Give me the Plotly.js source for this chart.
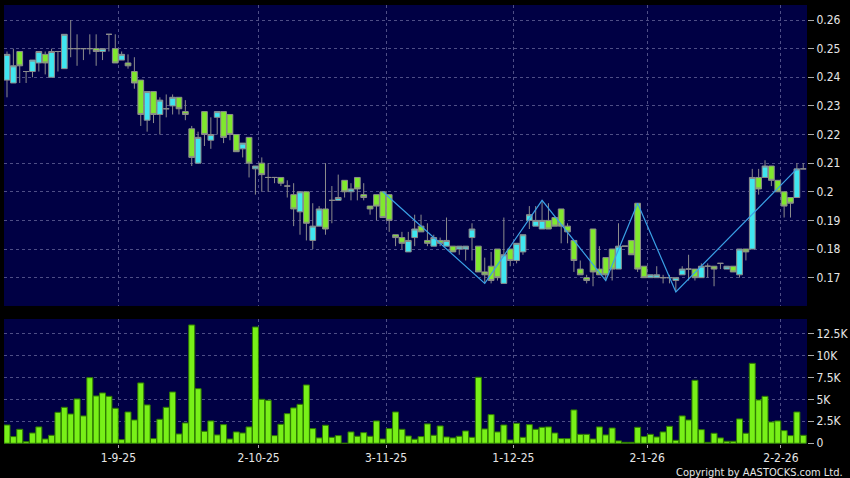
<!DOCTYPE html>
<html><head><meta charset="utf-8">
<script src="https://cdn.plot.ly/plotly-3.0.1.min.js"></script>
<style>html,body{margin:0;padding:0;background:#000;}#chart{width:850px;height:478px;}</style>
</head><body><div id="chart"></div>
<script>
const openP = [0.239,0.238,0.249,0.242,0.242,0.245,0.248,0.240,0.249,0.243,
0.250,0.250,0.250,0.250,0.250,0.249,0.255,0.250,0.246,0.245,
0.242,0.239,0.225,0.235,0.227,0.229,0.230,0.233,0.228,0.222,
0.210,0.228,0.218,0.226,0.228,0.227,0.220,0.215,0.219,0.208,
0.210,0.205,0.205,0.205,0.202,0.199,0.193,0.200,0.183,0.188,
0.194,0.197,0.197,0.204,0.200,0.205,0.199,0.195,0.199,0.200,
0.199,0.185,0.184,0.179,0.184,0.188,0.183,0.181,0.183,0.181,
0.181,0.180,0.180,0.184,0.181,0.172,0.174,0.180,0.168,0.180,
0.176,0.179,0.190,0.188,0.187,0.190,0.191,0.194,0.188,0.183,
0.173,0.170,0.187,0.173,0.177,0.180,0.173,0.181,0.183,0.196,
0.174,0.170,0.170,0.170,0.170,0.169,0.171,0.173,0.173,0.170,
0.174,0.174,0.175,0.173,0.174,0.171,0.180,0.180,0.205,0.205,
0.209,0.204,0.200,0.198,0.198,0.208];
const highP = [0.249,0.250,0.249,0.242,0.246,0.249,0.249,0.250,0.249,0.255,
0.260,0.255,0.250,0.255,0.255,0.250,0.255,0.255,0.249,0.248,
0.247,0.239,0.235,0.235,0.233,0.234,0.234,0.233,0.232,0.223,
0.221,0.228,0.226,0.228,0.228,0.227,0.220,0.217,0.219,0.209,
0.212,0.210,0.205,0.205,0.204,0.203,0.200,0.200,0.196,0.195,
0.210,0.202,0.206,0.204,0.203,0.205,0.203,0.195,0.199,0.200,
0.199,0.185,0.186,0.186,0.192,0.192,0.189,0.185,0.184,0.191,
0.181,0.181,0.181,0.189,0.181,0.177,0.179,0.180,0.191,0.180,
0.182,0.185,0.195,0.195,0.197,0.196,0.191,0.194,0.189,0.183,
0.176,0.171,0.187,0.181,0.177,0.180,0.189,0.181,0.183,0.196,
0.174,0.171,0.174,0.171,0.171,0.170,0.174,0.178,0.173,0.175,
0.175,0.174,0.175,0.174,0.174,0.180,0.180,0.208,0.208,0.211,
0.209,0.204,0.200,0.198,0.210,0.210];
const lowP = [0.233,0.238,0.238,0.238,0.240,0.242,0.241,0.240,0.242,0.243,
0.247,0.244,0.246,0.248,0.244,0.246,0.249,0.245,0.246,0.243,
0.236,0.223,0.221,0.224,0.220,0.226,0.227,0.227,0.225,0.209,
0.210,0.216,0.215,0.220,0.217,0.218,0.214,0.212,0.205,0.199,
0.200,0.200,0.203,0.202,0.198,0.188,0.185,0.183,0.180,0.188,
0.185,0.189,0.197,0.198,0.197,0.197,0.197,0.192,0.190,0.191,
0.186,0.181,0.180,0.179,0.181,0.186,0.181,0.181,0.181,0.181,
0.179,0.178,0.176,0.176,0.172,0.168,0.168,0.169,0.168,0.174,
0.175,0.178,0.187,0.188,0.187,0.187,0.188,0.182,0.182,0.172,
0.171,0.168,0.167,0.171,0.169,0.169,0.173,0.181,0.178,0.172,
0.170,0.170,0.170,0.168,0.168,0.165,0.171,0.169,0.169,0.170,
0.170,0.167,0.173,0.173,0.172,0.170,0.176,0.180,0.199,0.205,
0.202,0.200,0.191,0.191,0.198,0.208];
const closeP = [0.248,0.244,0.244,0.242,0.246,0.249,0.245,0.249,0.249,0.255,
0.250,0.250,0.250,0.250,0.249,0.250,0.255,0.245,0.248,0.244,
0.238,0.227,0.235,0.227,0.232,0.229,0.233,0.229,0.227,0.212,
0.219,0.220,0.220,0.228,0.219,0.220,0.214,0.217,0.210,0.209,
0.206,0.205,0.205,0.203,0.202,0.194,0.200,0.189,0.188,0.194,
0.187,0.197,0.198,0.200,0.201,0.201,0.198,0.194,0.195,0.191,
0.190,0.184,0.182,0.183,0.187,0.186,0.182,0.184,0.182,0.183,
0.179,0.181,0.181,0.187,0.172,0.171,0.169,0.170,0.178,0.176,
0.182,0.185,0.192,0.190,0.190,0.187,0.188,0.188,0.186,0.176,
0.171,0.169,0.172,0.171,0.171,0.173,0.181,0.181,0.178,0.173,
0.170,0.171,0.171,0.170,0.170,0.170,0.173,0.173,0.170,0.174,
0.174,0.173,0.175,0.174,0.172,0.180,0.179,0.205,0.201,0.209,
0.204,0.200,0.195,0.196,0.208,0.208];
const volume = [2080,760,1590,190,1170,1860,490,910,3520,4090,
3330,5040,3110,7460,5380,5720,5340,3980,420,3560,
2650,6860,4360,530,2730,4090,5830,1060,2310,13450,
6210,1360,2540,950,2120,490,1290,1170,1860,13220,
5000,4890,870,2160,3370,4020,4430,6630,1670,610,
2050,680,870,0,1290,800,1210,800,2540,490,
1670,3560,1590,830,460,760,2200,910,1970,720,
610,800,1400,680,7500,1630,3260,1290,2080,380,
2270,680,2120,1590,1820,1860,1170,530,530,3790,
1020,1020,490,1860,950,1740,270,110,110,1820,
760,1020,720,1290,1930,340,3110,2650,7160,1550,
110,1140,610,230,230,2770,1140,9090,4920,5340,
2420,2540,1440,870,3560,910];
const zigzagIdx = [59, 75, 84, 94, 99, 105, 124];
const zigzagVal = [0.200, 0.168, 0.197, 0.169, 0.196, 0.165, 0.208];
const dateTickPos = [17.5, 39.5, 59.5, 79.5, 100.5, 121.5];
const dateTickText = ['1-9-25','2-10-25','3-11-25','1-12-25','2-1-26','2-2-26'];
const priceTickVals = [0.17,0.18,0.19,0.20,0.21,0.22,0.23,0.24,0.25,0.26];
const priceTickText = ['0.17','0.18','0.19','0.2','0.21','0.22','0.23','0.24','0.25','0.26'];
const volTickVals = [0,2500,5000,7500,10000,12500];
const volTickText = ['0','2.5K','5K','7.5K','10K','12.5K'];

const idx = openP.map((_, i) => i);
const FONT = 'DejaVu Sans Condensed, DejaVu Sans, sans-serif';
const GRID = '#4e4e86';
const xRange = [-0.47, 125.59];

const traces = [
  {
    type: 'candlestick', x: idx, open: openP, high: highP, low: lowP, close: closeP,
    xaxis: 'x', yaxis: 'y', whiskerwidth: 0, hoverinfo: 'none',
    increasing: {line: {color: '#8c8c8c', width: 1}, fillcolor: '#3fe6f0'},
    decreasing: {line: {color: '#8c8c8c', width: 1}, fillcolor: '#80e82e'}
  },
  {
    type: 'scatter', mode: 'lines', x: zigzagIdx, y: zigzagVal,
    xaxis: 'x', yaxis: 'y', line: {color: '#3aa0e6', width: 1.2}, hoverinfo: 'none'
  },
  {
    type: 'bar', x: idx, y: volume, xaxis: 'x2', yaxis: 'y2', hoverinfo: 'none',
    marker: {color: '#78f018', line: {color: '#2e7a00', width: 1}}
  }
];

const layout = {
  width: 850, height: 478,
  paper_bgcolor: '#000000', plot_bgcolor: '#000044',
  margin: {l: 4, r: 43, t: 5, b: 34},
  showlegend: false, boxgap: 0.1, boxgroupgap: 0, bargap: 0.06,
  font: {family: FONT, color: '#e6e6e6', size: 11},
  xaxis: {
    domain: [0, 1], range: xRange, anchor: 'y',
    tickmode: 'array', tickvals: dateTickPos, showticklabels: false, ticks: '',
    showgrid: true, gridcolor: GRID, griddash: '3px,3px', gridwidth: 1,
    zeroline: false, showline: false, rangeslider: {visible: false}, fixedrange: true
  },
  xaxis2: {
    domain: [0, 1], range: xRange, anchor: 'y2',
    tickmode: 'array', tickvals: dateTickPos, ticktext: dateTickText,
    ticks: 'outside', ticklen: 3, tickcolor: '#aaaaaa',
    tickfont: {family: FONT, color: '#e6e6e6', size: 12},
    showgrid: true, gridcolor: GRID, griddash: '3px,3px', gridwidth: 1,
    zeroline: false, showline: false, fixedrange: true
  },
  yaxis: {
    domain: [0.3144, 1], range: [0.16011, 0.26524], side: 'right', anchor: 'x',
    tickmode: 'array', tickvals: priceTickVals, ticktext: priceTickText,
    ticks: 'outside', ticklen: 6, tickcolor: '#aaaaaa',
    tickfont: {family: FONT, color: '#e6e6e6', size: 12},
    showgrid: true, gridcolor: GRID, griddash: '3px,3px', gridwidth: 1,
    zeroline: false, showline: false, fixedrange: true
  },
  yaxis2: {
    domain: [0, 0.2847], range: [-80, 14125], side: 'right', anchor: 'x2',
    tickmode: 'array', tickvals: volTickVals, ticktext: volTickText,
    ticks: 'outside', ticklen: 6, tickcolor: '#aaaaaa',
    tickfont: {family: FONT, color: '#e6e6e6', size: 12},
    showgrid: true, gridcolor: GRID, griddash: '3px,3px', gridwidth: 1,
    zeroline: false, showline: false, fixedrange: true
  },
  annotations: [{
    text: 'Copyright by AASTOCKS.com Ltd.', xref: 'paper', yref: 'paper',
    x: 1.0473, y: -0.0638, xanchor: 'right', yanchor: 'middle', showarrow: false,
    font: {family: FONT, color: '#e6e6e6', size: 11}
  }]
};

Plotly.newPlot('chart', traces, layout, {displayModeBar: false, staticPlot: true});
</script>
</body></html>
